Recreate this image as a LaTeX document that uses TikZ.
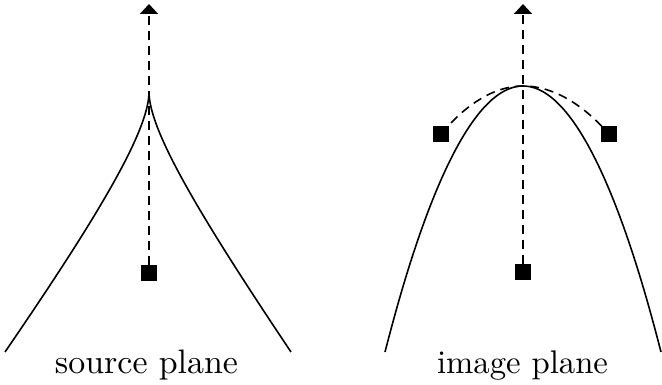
\documentclass[tikz,border=0pt]{standalone}
\usetikzlibrary{arrows.meta}
\begin{document}
\begin{tikzpicture}[x=1pt,y=-1pt,
  curve/.style={line width=1.6pt},
  axis/.style={line width=2pt,dash pattern=on 9pt off 6pt,-{Triangle[width=18pt,length=10pt]}},
  dcurve/.style={line width=1.6pt,dash pattern=on 9pt off 6pt},
  pt/.style={fill=black,minimum size=16pt,inner sep=0pt,outer sep=0pt,draw=none},
  lbl/.style={anchor=base,inner sep=0pt}]
\useasboundingbox (0,0) rectangle (662,385);
% source plane
\coordinate (cusp) at (149,92);
\coordinate (stip) at (149,4);
\coordinate (sl) at (5,352);
\coordinate (sr) at (291,352);
\node[pt] (ssrc) at (149,273) {};
\draw[curve] (sl) .. controls (94,222) and (149,132) .. (cusp)
             .. controls (149,132) and (204,222) .. (sr);
\draw[axis] (ssrc.north) -- (stip);
\node[lbl] (slab) at (146.5,373) {\resizebox{183pt}{!}{\fontsize{10}{12}\selectfont source plane}};
% image plane
\coordinate (apex) at (523,86);
\coordinate (itip) at (523,4);
\coordinate (il) at (385,352);
\coordinate (ir) at (661,352);
\node[pt] (iimg) at (523,272) {};
\node[pt] (ia) at (441,134) {};
\node[pt] (ib) at (609,134) {};
\draw[curve] (il) parabola bend (apex) (ir);
\draw[dcurve] (ia.center) parabola bend (apex) (ib.center);
\node[pt] at (ia) {};
\node[pt] at (ib) {};
\draw[axis] (iimg.north) -- (itip);
\node[lbl] (ilab) at (522.5,373) {\resizebox{171pt}{!}{\fontsize{10}{12}\selectfont image plane}};
\end{tikzpicture}
\end{document}
